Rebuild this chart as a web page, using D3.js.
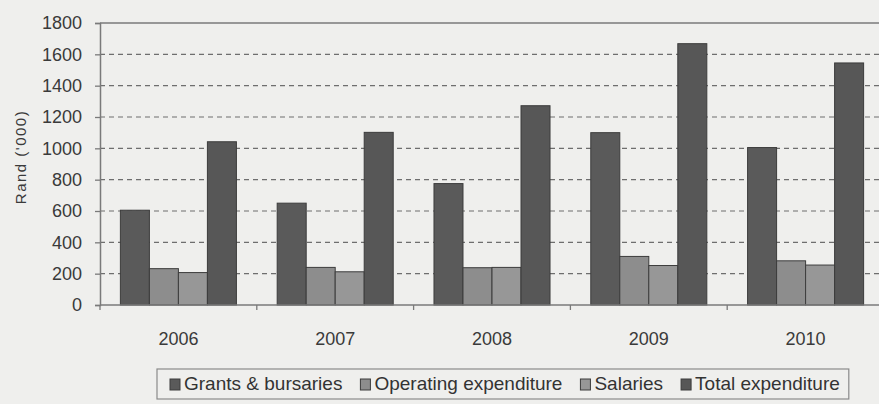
<!DOCTYPE html>
<html>
<head>
<meta charset="utf-8">
<script src="https://cdn.jsdelivr.net/npm/d3@7"></script>
<style>
  body { margin: 0; background: #efefed; }
  svg { display: block; font-family: "Liberation Sans", Arial, sans-serif; }
</style>
</head>
<body>
<div id="viz"></div>
<script>
// values, Rand ('000)
var years = ["2006", "2007", "2008", "2009", "2010"];
var series = ["Grants & bursaries", "Operating expenditure", "Salaries", "Total expenditure"];
var grants = [605, 650, 775, 1100, 1005];
var operating = [232, 240, 238, 310, 282];
var salaries = [207, 212, 240, 252, 255];
var total = [1042, 1102, 1272, 1668, 1545];
var yTicks = [0, 200, 400, 600, 800, 1000, 1200, 1400, 1600, 1800];

var colors = ["#5a5a5a", "#8d8d8d", "#979797", "#575757"];

var width = 879, height = 404;
var margin = {left: 100, top: 23, bottom: 99};
var plotRight = 884;

var rows = years.map(function (y, i) {
  return {year: y, values: [grants[i], operating[i], salaries[i], total[i]]};
});

var svg = d3.select("#viz").append("svg")
  .attr("width", width)
  .attr("height", height);

var x0 = d3.scaleBand()
  .domain(years)
  .range([margin.left, plotRight])
  .paddingInner(0.26)
  .paddingOuter(0.13);

var x1 = d3.scaleBand()
  .domain(d3.range(series.length))
  .range([0, x0.bandwidth()]);

var y = d3.scaleLinear()
  .domain([0, 1800])
  .range([height - margin.bottom, margin.top]);

// dashed gridlines
svg.append("g")
  .selectAll("line")
  .data(yTicks.slice(1, -1))
  .enter().append("line")
  .attr("x1", margin.left)
  .attr("x2", plotRight)
  .attr("y1", function (d) { return y(d); })
  .attr("y2", function (d) { return y(d); })
  .attr("stroke", "#6e6e6e")
  .attr("stroke-width", 1.2)
  .attr("stroke-dasharray", "5,4");

// top border
svg.append("line")
  .attr("x1", margin.left).attr("x2", plotRight)
  .attr("y1", y(1800)).attr("y2", y(1800))
  .attr("stroke", "#7a7a7a").attr("stroke-width", 1.5);

// bars
var groups = svg.append("g")
  .selectAll("g")
  .data(rows)
  .enter().append("g")
  .attr("transform", function (d) { return "translate(" + x0(d.year) + ",0)"; });

groups.selectAll("rect")
  .data(function (d) { return d.values; })
  .enter().append("rect")
  .attr("x", function (d, i) { return x1(i); })
  .attr("y", function (d) { return y(d); })
  .attr("width", x1.bandwidth())
  .attr("height", function (d) { return y(0) - y(d); })
  .attr("fill", function (d, i) { return colors[i]; })
  .attr("stroke", "#3c3c3c")
  .attr("stroke-width", 1);

// y axis
var yAxis = svg.append("g")
  .attr("transform", "translate(" + margin.left + ",0)")
  .call(d3.axisLeft(y).tickValues(yTicks).tickFormat(d3.format("d")).tickSize(5).tickPadding(13));
yAxis.select(".domain").attr("stroke", "#7a7a7a").attr("stroke-width", 1.5);
yAxis.selectAll(".tick line").attr("stroke", "#7a7a7a").attr("stroke-width", 1.3);
yAxis.selectAll("text")
  .attr("font-size", 18)
  .attr("fill", "#3a3a3a")
  .attr("font-family", "Liberation Sans, Arial, sans-serif");

// x axis: ticks between categories
var bounds = years.map(function (d) { return x0(d) - x0.step() * x0.paddingOuter(); });
var xAxis = svg.append("g");
xAxis.append("line")
  .attr("x1", margin.left).attr("x2", plotRight)
  .attr("y1", y(0)).attr("y2", y(0))
  .attr("stroke", "#7a7a7a").attr("stroke-width", 1.5);
xAxis.selectAll(".xt")
  .data(bounds)
  .enter().append("line")
  .attr("class", "xt")
  .attr("x1", function (d) { return d; })
  .attr("x2", function (d) { return d; })
  .attr("y1", y(0))
  .attr("y2", y(0) + 5)
  .attr("stroke", "#7a7a7a").attr("stroke-width", 1.3);
xAxis.selectAll("text")
  .data(years)
  .enter().append("text")
  .attr("x", function (d) { return x0(d) + x0.bandwidth() / 2; })
  .attr("y", y(0) + 40)
  .attr("text-anchor", "middle")
  .attr("font-size", 18)
  .attr("fill", "#3a3a3a")
  .text(function (d) { return d; });

// y axis title
svg.append("text")
  .attr("transform", "translate(26," + 157 + ") rotate(-90)")
  .attr("text-anchor", "middle")
  .attr("font-size", 15)
  .attr("letter-spacing", 1.5)
  .attr("fill", "#3a3a3a")
  .text("Rand ('000)");

// legend
var legend = svg.append("g");
var lx = 170, ly = 390;
var items = legend.selectAll("g")
  .data(series)
  .enter().append("g");
items.append("rect")
  .attr("width", 10).attr("height", 11)
  .attr("y", -11)
  .attr("fill", function (d, i) { return colors[i]; })
  .attr("stroke", "#3c3c3c");
items.append("text")
  .attr("x", 14)
  .attr("font-size", 19)
  .attr("fill", "#333")
  .text(function (d) { return d; });
items.each(function () {
  d3.select(this).attr("transform", "translate(" + lx + "," + ly + ")");
  lx += this.getBBox().width + 18;
});
var lb = legend.node().getBBox();
legend.insert("rect", ":first-child")
  .attr("x", lb.x - 13)
  .attr("y", 369)
  .attr("width", lb.width + 22)
  .attr("height", 30)
  .attr("fill", "none")
  .attr("stroke", "#8a8a8a")
  .attr("stroke-width", 1.2);
</script>
</body>
</html>
